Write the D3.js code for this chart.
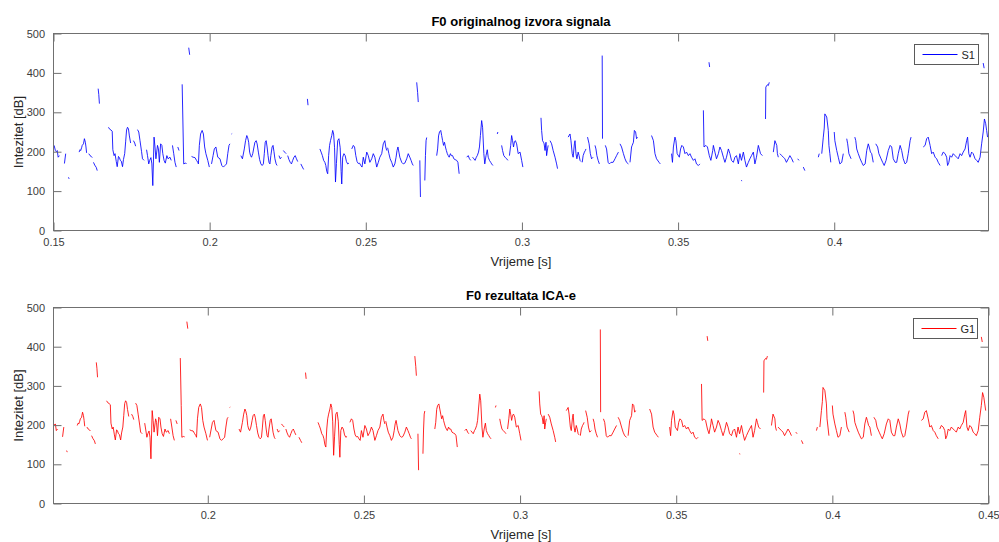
<!DOCTYPE html>
<html><head><meta charset="utf-8">
<script src="https://cdn.jsdelivr.net/npm/d3@7"></script>
<style>
body{margin:0;background:#fff}
svg{display:block}
text{font-family:"Liberation Sans",Arial,Helvetica,sans-serif}
</style>
</head><body>
<svg id="chart" width="999" height="542"></svg>
<script>
// ---- data ----
const xTickValues = [0.15, 0.2, 0.25, 0.3, 0.35, 0.4, 0.45];
const yTickValues = [0, 100, 200, 300, 400, 500];
const panelTitles = ["F0 originalnog izvora signala", "F0 rezultata ICA-e"];
const seriesNames = ["S1", "G1"];
const xLabel = "Vrijeme [s]";
const yLabel = "Intezitet [dB]";

// F0 contour of S1: [time s, value], null = unvoiced gap
const s1Points = [
[0.1502,216],[0.1506,203],[0.1509,200],[0.1512,203],[0.1515,186],[0.1519,190], null,
[0.1535,170],[0.1539,195], null,
[0.1548,135],[0.1550,131], null,
[0.1582,199],[0.1585,205],[0.1587,203],[0.1590,210],[0.1592,216],[0.1596,220],[0.1599,233],[0.1602,224],[0.1604,212],[0.1606,197], null,
[0.1613,195],[0.1617,190],[0.1621,188],[0.1624,185], null,
[0.1628,173],[0.1632,166],[0.1637,160],[0.1640,152], null,
[0.1643,360],[0.1645,345],[0.1647,322], null,
[0.1676,262],[0.1680,257],[0.1684,255],[0.1688,252],[0.1690,205],[0.1694,190],[0.1697,195],[0.1701,175],[0.1704,162],[0.1708,188],[0.1711,185],[0.1714,178],[0.1717,176],[0.1721,162],[0.1724,180],[0.1728,195],[0.1731,225],[0.1734,255],[0.1737,262],[0.1740,258],[0.1743,240],[0.1747,222], null,
[0.1756,228],[0.1760,222],[0.1763,214], null,
[0.1769,256],[0.1773,250],[0.1777,228],[0.1782,200],[0.1785,182],[0.1790,178], null,
[0.1798,205],[0.1801,190],[0.1805,169],[0.1808,178],[0.1812,185],[0.1815,169],[0.1818,114],[0.1822,237],[0.1825,212],[0.1828,182],[0.1833,216],[0.1836,207],[0.1839,173],[0.1843,220],[0.1847,216],[0.1850,195],[0.1854,178],[0.1858,171],[0.1863,190],[0.1867,182],[0.1873,186],[0.1877,178], null,
[0.1881,216],[0.1885,195],[0.1889,173],[0.1893,161], null,
[0.1898,212],[0.1902,203], null,
[0.1912,371],[0.1915,250],[0.1917,169],[0.1922,171],[0.1926,170], null,
[0.1933,464],[0.1936,446], null,
[0.1942,188],[0.1947,186],[0.1953,185],[0.1958,178],[0.1962,173],[0.1964,169],[0.1967,216],[0.1971,245],[0.1976,254],[0.1980,245],[0.1984,212],[0.1988,195],[0.1994,178],[0.1999,161], null,
[0.2006,169],[0.2011,190],[0.2015,207],[0.2020,212],[0.2026,186],[0.2033,182],[0.2039,165],[0.2044,161],[0.2049,165],[0.2054,169],[0.2058,195],[0.2062,216],[0.2065,220], null,
[0.2070,245],[0.2072,246], null,
[0.2100,190],[0.2105,182],[0.2111,207],[0.2115,228],[0.2119,241],[0.2122,235],[0.2125,224],[0.2128,199],[0.2131,190],[0.2134,186],[0.2138,195],[0.2142,212],[0.2145,224],[0.2149,228],[0.2152,220],[0.2156,199],[0.2160,180],[0.2164,169],[0.2168,165],[0.2172,169],[0.2175,195],[0.2178,224],[0.2181,228],[0.2184,212],[0.2187,190],[0.2190,173],[0.2193,169],[0.2196,190],[0.2200,212],[0.2203,216],[0.2206,200],[0.2209,182],[0.2213,169],[0.2216,165], null,
[0.2222,190],[0.2226,182],[0.2230,186], null,
[0.2236,203],[0.2240,199],[0.2245,195], null,
[0.2250,190],[0.2254,180],[0.2258,173],[0.2262,169],[0.2266,178],[0.2270,186],[0.2274,190],[0.2278,182],[0.2282,175], null,
[0.2292,169],[0.2297,161],[0.2301,155], null,
[0.2313,334],[0.2315,318], null,
[0.2353,207],[0.2357,199],[0.2361,190],[0.2365,178],[0.2369,173],[0.2372,165],[0.2375,150],[0.2378,144],[0.2381,190],[0.2384,216],[0.2387,228],[0.2391,241],[0.2394,254],[0.2397,245],[0.2400,210],[0.2403,123],[0.2406,170],[0.2410,228],[0.2414,233],[0.2418,210],[0.2421,150],[0.2423,118],[0.2426,186],[0.2430,195],[0.2434,190],[0.2438,175],[0.2442,169],[0.2446,171], null,
[0.2455,207],[0.2460,216],[0.2464,212],[0.2468,190],[0.2472,175],[0.2476,170],[0.2480,171],[0.2484,165],[0.2488,161],[0.2492,186],[0.2497,169],[0.2503,199],[0.2508,190],[0.2513,173],[0.2519,182],[0.2524,195],[0.2529,186],[0.2535,161],[0.2540,173],[0.2545,186],[0.2551,195],[0.2556,220],[0.2561,228],[0.2564,212],[0.2567,203], null,
[0.2570,210],[0.2574,195],[0.2578,182],[0.2583,173],[0.2588,161],[0.2593,169],[0.2597,186],[0.2600,203],[0.2603,212],[0.2606,199],[0.2609,186],[0.2615,173],[0.2620,169],[0.2625,171],[0.2631,182],[0.2636,195],[0.2641,186],[0.2645,178],[0.2649,169],[0.2652,165], null,
[0.2663,376],[0.2666,350],[0.2668,326], null,
[0.2673,178],[0.2675,85], null,
[0.2689,127],[0.2691,190],[0.2693,228],[0.2695,236], null,
[0.2727,190],[0.2730,207],[0.2733,240],[0.2736,250],[0.2740,254],[0.2743,241],[0.2746,228],[0.2749,216],[0.2752,224],[0.2755,212],[0.2758,203],[0.2761,195],[0.2764,190],[0.2767,186],[0.2771,195],[0.2774,190],[0.2778,190],[0.2782,182],[0.2786,180],[0.2791,178],[0.2795,173],[0.2799,144], null,
[0.2823,186],[0.2828,190],[0.2832,182],[0.2836,178], null,
[0.2842,186],[0.2846,182],[0.2850,178],[0.2854,186],[0.2857,190],[0.2861,199],[0.2864,212],[0.2867,241],[0.2871,279],[0.2874,262],[0.2878,195],[0.2881,169],[0.2885,190],[0.2889,205],[0.2892,186],[0.2896,178],[0.2900,173],[0.2903,169],[0.2907,165], null,
[0.2921,245],[0.2923,250], null,
[0.2935,216],[0.2938,203],[0.2942,190],[0.2946,186],[0.2951,182],[0.2955,178], null,
[0.2960,190],[0.2964,216],[0.2967,241],[0.2970,228],[0.2973,212],[0.2976,225],[0.2979,228],[0.2983,220],[0.2988,195],[0.2994,199],[0.2999,178],[0.3003,161], null,
[0.3061,286],[0.3063,254],[0.3066,228],[0.3069,224],[0.3071,220],[0.3074,203],[0.3077,224],[0.3079,190],[0.3082,207],[0.3084,216], null,
[0.3090,228],[0.3095,220],[0.3100,203],[0.3106,186],[0.3111,169],[0.3114,157], null,
[0.3148,237],[0.3154,245],[0.3157,228],[0.3161,195],[0.3164,186],[0.3168,220],[0.3170,228],[0.3173,195],[0.3176,182],[0.3180,199],[0.3183,190],[0.3186,178],[0.3189,175], null,
[0.3193,173],[0.3196,190],[0.3200,199],[0.3203,203],[0.3205,207], null,
[0.3210,237],[0.3215,220],[0.3219,195],[0.3223,182],[0.3228,186], null,
[0.3234,216],[0.3237,207],[0.3240,190],[0.3244,178],[0.3248,169], null,
[0.3257,444],[0.3258,233], null,
[0.3267,216],[0.3271,207],[0.3276,173],[0.3280,169],[0.3285,173],[0.3292,173],[0.3298,182],[0.3303,190],[0.3309,199], null,
[0.3314,220],[0.3319,212],[0.3325,195],[0.3330,182],[0.3335,173],[0.3341,169], null,
[0.3346,173],[0.3351,212],[0.3353,216],[0.3357,224],[0.3360,254],[0.3364,250],[0.3367,233],[0.3370,237], null,
[0.3415,241],[0.3421,228],[0.3426,195],[0.3431,182],[0.3439,173],[0.3443,169], null,
[0.3479,195],[0.3482,173],[0.3485,212],[0.3490,237],[0.3493,228],[0.3497,195],[0.3504,186],[0.3508,207],[0.3512,216],[0.3517,212],[0.3522,195],[0.3527,199],[0.3533,190],[0.3538,195],[0.3543,186],[0.3549,178],[0.3554,182],[0.3559,169],[0.3565,165],[0.3570,169], null,
[0.3581,305],[0.3583,212],[0.3589,216],[0.3594,212],[0.3600,190],[0.3605,178],[0.3611,203],[0.3613,216],[0.3618,199],[0.3623,182],[0.3629,195],[0.3634,212],[0.3639,203],[0.3645,186],[0.3650,173],[0.3655,186],[0.3661,207],[0.3666,195],[0.3671,178],[0.3677,173],[0.3682,186],[0.3687,190],[0.3693,169],[0.3698,195],[0.3703,178],[0.3709,199],[0.3714,178],[0.3719,161],[0.3725,173],[0.3730,182],[0.3735,190],[0.3741,199],[0.3746,169],[0.3751,186],[0.3757,216],[0.3760,207],[0.3764,195],[0.3770,190], null,
[0.3599,427],[0.3601,415], null,
[0.3702,127],[0.3705,126], null,
[0.3780,283],[0.3781,364],[0.3786,370],[0.3789,368],[0.3792,376], null,
[0.3805,199],[0.3810,228],[0.3816,216],[0.3818,195],[0.3821,186], null,
[0.3826,195],[0.3832,190],[0.3837,186],[0.3842,182],[0.3847,173],[0.3853,182],[0.3858,190],[0.3864,182],[0.3869,173], null,
[0.3883,182],[0.3887,178], null,
[0.3901,161],[0.3906,152], null,
[0.3949,186],[0.3952,195], null,
[0.3960,195],[0.3965,237],[0.3968,260],[0.3970,296],[0.3976,288],[0.3981,254],[0.3983,216],[0.3986,195],[0.3989,173], null,
[0.4000,250],[0.4002,228],[0.4008,203],[0.4013,186],[0.4018,169],[0.4024,173],[0.4029,195], null,
[0.4040,233],[0.4043,220],[0.4047,195],[0.4054,182], null,
[0.4066,237],[0.4069,228],[0.4072,207],[0.4077,195],[0.4083,182],[0.4088,173],[0.4093,165],[0.4099,169],[0.4104,203],[0.4109,220],[0.4112,212],[0.4116,199],[0.4120,195],[0.4125,173], null,
[0.4133,220],[0.4139,212],[0.4143,195],[0.4150,182],[0.4155,173],[0.4160,165],[0.4166,178],[0.4173,203],[0.4179,216],[0.4184,212],[0.4189,182],[0.4195,173],[0.4200,173],[0.4205,195],[0.4211,216],[0.4216,203],[0.4221,182],[0.4227,169],[0.4232,173],[0.4237,195],[0.4243,228],[0.4246,237], null,
[0.4285,212],[0.4291,216],[0.4296,233],[0.4301,237],[0.4307,216],[0.4312,195],[0.4317,199],[0.4323,186],[0.4328,182],[0.4333,173],[0.4339,165], null,
[0.4344,190],[0.4349,199],[0.4355,195],[0.4360,186],[0.4363,165],[0.4367,173],[0.4371,190],[0.4376,186],[0.4381,195],[0.4387,190],[0.4392,186],[0.4397,182],[0.4403,195],[0.4408,190],[0.4413,199],[0.4419,207],[0.4424,228],[0.4427,237],[0.4431,195],[0.4435,186],[0.4440,199],[0.4445,195],[0.4451,182],[0.4456,178],[0.4461,173],[0.4467,186],[0.4472,220],[0.4477,250],[0.4481,283],[0.4485,271],[0.4488,254],[0.4491,237], null,
[0.4477,425],[0.4480,412], null
];
// The ICA output G1 traces the same contour as S1 in the reference picture
const g1Points = s1Points;

// ---- drawing ----
const svg = d3.select("#chart");
svg.append("rect").attr("width", 999).attr("height", 542).attr("fill", "#fff");
const defs = svg.append("defs");
const axisColor = "#707070";
const tickTextColor = "#3c3c3c";

function drawPanel(cfg) {
  const g = svg.append("g");
  const x = d3.scaleLinear().domain(cfg.xDomain).range([cfg.left, cfg.right]);
  const y = d3.scaleLinear().domain([0, 500]).range([cfg.bottom, cfg.top]);

  defs.append("clipPath").attr("id", "clip" + cfg.id)
    .append("rect").attr("x", cfg.left).attr("y", cfg.top)
    .attr("width", cfg.right - cfg.left).attr("height", cfg.bottom - cfg.top);

  const line = d3.line().defined(d => d !== null).x(d => x(d[0])).y(d => y(d[1]));
  g.append("path").datum(cfg.data).attr("d", line)
    .attr("fill", "none").attr("stroke", cfg.color).attr("stroke-width", 0.85)
    .attr("stroke-linejoin", "round")
    .attr("clip-path", `url(#clip${cfg.id})`);

  const xt = xTickValues.filter(v => v >= cfg.xDomain[0] - 1e-9 && v <= cfg.xDomain[1] + 1e-9);
  const fmt = d => String(+d.toFixed(2));

  const styleAxis = sel => {
    sel.select(".domain").remove();
    sel.selectAll(".tick line").attr("stroke", axisColor).attr("stroke-width", 1);
    sel.selectAll(".tick text").attr("fill", tickTextColor).style("font-size", "11px")
      .style("font-family", '"Liberation Sans", Arial, sans-serif');
  };

  g.append("g").attr("transform", `translate(0,${cfg.bottom})`)
    .call(d3.axisBottom(x).tickValues(xt).tickSizeInner(-8).tickSizeOuter(0).tickPadding(7.5).tickFormat(fmt))
    .call(styleAxis);
  g.append("g").attr("transform", `translate(0,${cfg.top})`)
    .call(d3.axisTop(x).tickValues(xt).tickSizeInner(-8).tickSizeOuter(0).tickFormat(""))
    .call(styleAxis);
  g.append("g").attr("transform", `translate(${cfg.left},0)`)
    .call(d3.axisLeft(y).tickValues(yTickValues).tickSizeInner(-8).tickSizeOuter(0).tickPadding(8.5).tickFormat(d3.format("d")))
    .call(styleAxis);
  g.append("g").attr("transform", `translate(${cfg.right},0)`)
    .call(d3.axisRight(y).tickValues(yTickValues).tickSizeInner(-8).tickSizeOuter(0).tickFormat(""))
    .call(styleAxis);

  // box
  g.append("rect").attr("x", cfg.left).attr("y", cfg.top)
    .attr("width", cfg.right - cfg.left).attr("height", cfg.bottom - cfg.top)
    .attr("fill", "none").attr("stroke", axisColor).attr("stroke-width", 1);

  const cx = (cfg.left + cfg.right) / 2;
  g.append("text").attr("x", cx).attr("y", cfg.top - 8)
    .attr("text-anchor", "middle").style("font-size", "13px").style("font-weight", "bold")
    .attr("fill", "#000").text(cfg.title);
  g.append("text").attr("x", cx).attr("y", cfg.bottom + 35)
    .attr("text-anchor", "middle").style("font-size", "13px").attr("fill", "#262626").text(xLabel);
  g.append("text").attr("transform", `translate(23,${(cfg.top + cfg.bottom) / 2}) rotate(-90)`)
    .attr("text-anchor", "middle").style("font-size", "13px").attr("fill", "#262626").text(yLabel);

  // legend
  const lg = g.append("g");
  lg.append("rect").attr("x", cfg.legendX).attr("y", cfg.legendY).attr("width", 64).attr("height", 20)
    .attr("fill", "#fff").attr("stroke", "#5a5a5a").attr("stroke-width", 1);
  lg.append("line").attr("x1", cfg.legendX + 8).attr("x2", cfg.legendX + 43)
    .attr("y1", cfg.legendY + 10).attr("y2", cfg.legendY + 10)
    .attr("stroke", cfg.color).attr("stroke-width", 1);
  lg.append("text").attr("x", cfg.legendX + 47).attr("y", cfg.legendY + 14)
    .style("font-size", "11px").attr("fill", "#262626").text(cfg.name);
}

drawPanel({id: 1, left: 53.5, right: 988.5, top: 33.5, bottom: 230.5, xDomain: [0.15, 0.4494],
  data: s1Points, color: "#0000ff", title: panelTitles[0], name: seriesNames[0], legendX: 914.5, legendY: 44.5});
drawPanel({id: 2, left: 53.5, right: 988.5, top: 307.5, bottom: 503.5, xDomain: [0.1506, 0.45],
  data: g1Points, color: "#ff0000", title: panelTitles[1], name: seriesNames[1], legendX: 913.5, legendY: 318.5});
</script>
</body></html>
